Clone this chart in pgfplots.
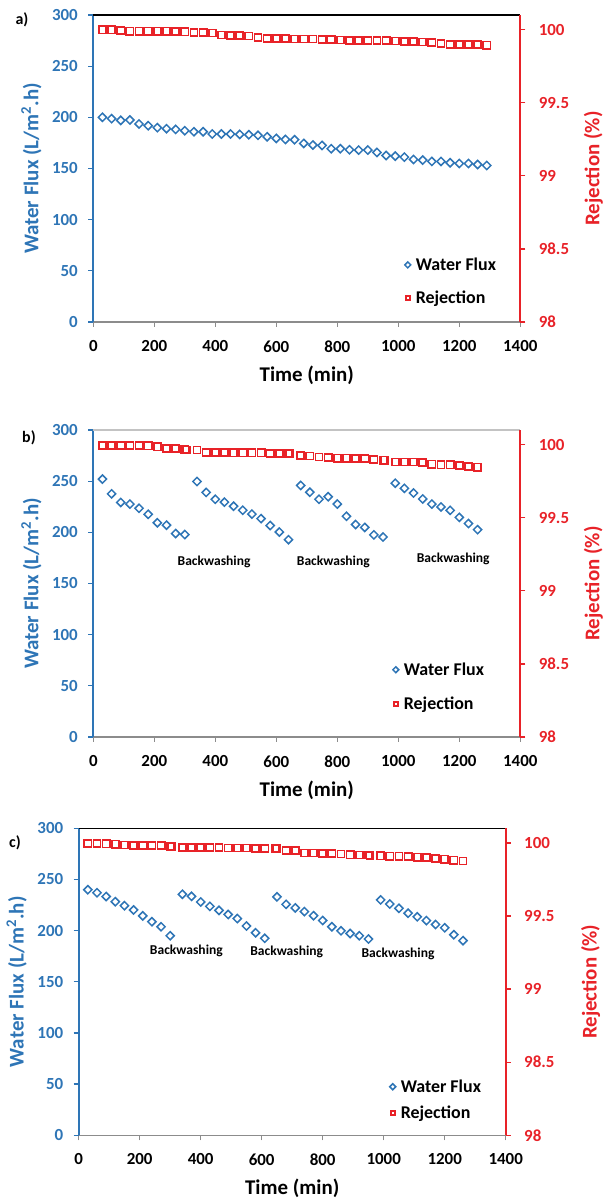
\documentclass[border=0pt]{standalone}
\usepackage{fontspec}
\setmainfont{Carlito}
\usepackage{pgfplots}
\pgfplotsset{compat=1.18}
\definecolor{fluxblue}{RGB}{46,117,182}
\definecolor{rejred}{RGB}{232,34,40}
\definecolor{axgray}{RGB}{140,140,140}
\definecolor{lgray}{RGB}{195,195,195}
\tikzset{bw/.style={font=\fontsize{13.6}{16}\selectfont\bfseries, black}}
\pgfplotsset{
  basefig/.style={
    scale only axis, width=427bp, height=307bp,
    xmin=0, xmax=1400,
    /pgf/number format/assume math mode=true,
    /pgf/number format/1000 sep={},
    tick label style={font=\fontsize{17}{20}\selectfont\bfseries},
    major tick length=5bp,
    tick align=outside,
    label style={font=\fontsize{21}{24}\selectfont\bfseries},
    clip=false,
  },
  fluxax/.style={basefig,
    ymin=0, ymax=300, ytick={0,50,...,300},
    xtick={0,200,...,1400},
    axis x line*=bottom, axis y line*=left,
    x axis line style={axgray, line width=1.5bp},
    y axis line style={fluxblue, line width=2bp},
    xtick style={axgray, line width=1bp},
    ytick style={fluxblue, line width=1.3bp},
    yticklabel style={fluxblue, xshift=-7bp},
    xticklabel style={black, yshift=-10bp},
    ylabel={Water Flux (L/m\textsuperscript{2}.h)},
    xlabel={Time (min)},
    ylabel style={fluxblue, at={([xshift=-62bp]rel axis cs:0,0.5)}, anchor=center},
    xlabel style={black, at={([yshift=-53bp]rel axis cs:0.5,0)}, anchor=center},
  },
  rejax/.style={basefig,
    ymin=98, ymax=100.1, ytick={98,98.5,99,99.5,100},
    axis x line=none, axis y line*=right,
    y axis line style={rejred, line width=2bp},
    ytick style={rejred, line width=1.3bp},
    yticklabel style={rejred, xshift=10bp},
    ylabel={Rejection (\%)},
    legend style={draw=none, fill=none, inner sep=0pt,
      font=\fontsize{18}{21}\selectfont\bfseries, anchor=west},
    legend cell align=left,
    legend image code/.code={\path[draw=none, fill=none] (-3bp,0bp) (6bp,0bp); \draw[##1, mark size=2.1bp] plot coordinates {(0bp,0bp)};},
  },
  rlabab/.style={ylabel style={rejred, at={([xshift=73bp]rel axis cs:1,0.5)}, anchor=center}},
  rlabc/.style={ylabel style={rejred, at={([xshift=85bp]rel axis cs:1,0.5)}, anchor=center}},
  fluxmark/.style={only marks, fluxblue, mark=square, mark size=2.9bp,
    mark options={rotate=45, line width=1.5bp}},
  rejmark/.style={only marks, rejred, mark=square, mark size=3.6bp,
    mark options={line width=1.7bp}},
}
\begin{document}
\begin{tikzpicture}
\useasboundingbox (0,0) rectangle (608bp,1198bp);

% ---------------- panel a ----------------
\node[font=\fontsize{16}{18}\selectfont\bfseries] at (22bp,1178bp) {a)};
\begin{axis}[fluxax, at={(93.3bp,1183bp)}, anchor=north west]
\addplot[fluxmark] coordinates {
(30,200) (60,198.7) (90,197) (120,197.4) (150,193.5) (180,191.8) (210,189.9) (240,188.9) (270,188.2) (300,186.9)
(330,185.9) (360,185.9) (390,183.7) (420,183.7) (450,183.7) (480,183.3) (510,183) (540,182.4) (570,181) (600,179.4)
(630,178.4) (660,178.1) (690,174.5) (720,172.9) (750,172.5) (780,169.3) (810,169.3) (840,168.3) (870,168) (900,168)
(930,165.7) (960,162.7) (990,162.1) (1020,161.1) (1050,158.8) (1080,158.2) (1110,156.9) (1140,156.9) (1170,155.6) (1200,154.9)
(1230,154.9) (1260,153.9) (1290,152.9)};
\draw[black, line width=1.3bp] (rel axis cs:0,1) -- (rel axis cs:1,1);
\end{axis}
\begin{axis}[rejax, rlabab, at={(93.3bp,1183bp)}, anchor=north west,
  legend style={at={(0.729,0.132)}, row sep=15bp}]
\addlegendimage{fluxmark}
\addlegendentry{Water Flux}
\addplot[rejmark] coordinates {
(30,99.998) (60,99.998) (90,99.993) (120,99.989) (150,99.989) (180,99.989) (210,99.989) (240,99.989) (270,99.986) (300,99.984)
(330,99.979) (360,99.979) (390,99.977) (420,99.963) (450,99.961) (480,99.959) (510,99.956) (540,99.947) (570,99.938) (600,99.938)
(630,99.938) (660,99.936) (690,99.936) (720,99.936) (750,99.933) (780,99.931) (810,99.929) (840,99.927) (870,99.927) (900,99.924)
(930,99.924) (960,99.924) (990,99.922) (1020,99.920) (1050,99.917) (1080,99.915) (1110,99.913) (1140,99.906) (1170,99.899) (1200,99.897)
(1230,99.897) (1260,99.897) (1290,99.894)};
\addlegendentry{Rejection}
\end{axis}

% ---------------- panel b ----------------
\node[font=\fontsize{16}{18}\selectfont\bfseries] at (29bp,760bp) {b)};
\begin{axis}[fluxax, at={(93.3bp,768bp)}, anchor=north west]
\addplot[fluxmark] coordinates {
(30,252) (60,237.6) (90,229.2) (120,227.6) (150,223.5) (180,217.6) (210,209.3) (240,207) (270,198.8) (300,197.8)
(340,249.7) (370,239) (400,232.3) (430,229.5) (460,225.5) (490,221.6) (520,217.8) (550,213.4) (580,206.6) (610,200.3) (640,192.8)
(680,245.8) (710,239.2) (740,232.3) (770,234.8) (800,227.6) (830,215.7) (860,207.6) (890,204.8) (920,197.5) (950,195.4)
(990,248) (1020,243) (1050,238.4) (1080,232.6) (1110,227.6) (1140,224.8) (1170,221.5) (1200,214.6) (1230,208.6) (1260,202.6)};
\draw[lgray, line width=1.3bp] (rel axis cs:0,1) -- (rel axis cs:1,1);
\node[bw] at (axis cs:396,171) {Backwashing};
\node[bw] at (axis cs:787,171) {Backwashing};
\node[bw] at (axis cs:1180,174.3) {Backwashing};
\end{axis}
\begin{axis}[rejax, rlabab, at={(93.3bp,768bp)}, anchor=north west,
  legend style={at={(0.701,0.1635)}, row sep=16bp}]
\addlegendimage{fluxmark}
\addlegendentry{Water Flux}
\addplot[rejmark] coordinates {
(30,99.995) (60,99.995) (90,99.995) (120,99.993) (150,99.993) (180,99.991) (210,99.984) (240,99.975) (270,99.975) (300,99.968) (305,99.963)
(340,99.963) (370,99.945) (400,99.945) (430,99.945) (460,99.943) (490,99.943) (520,99.943) (550,99.943) (580,99.940) (610,99.940) (640,99.940) (645,99.940)
(680,99.927) (710,99.922) (740,99.915) (770,99.911) (800,99.908) (830,99.908) (860,99.906) (890,99.904) (920,99.899) (950,99.894) (955,99.894)
(990,99.881) (1020,99.881) (1050,99.881) (1080,99.876) (1110,99.867) (1140,99.862) (1170,99.862) (1200,99.858) (1230,99.851) (1260,99.846)};
\addlegendentry{Rejection}
\end{axis}

% ---------------- panel c ----------------
\node[font=\fontsize{16}{18}\selectfont\bfseries] at (15bp,355bp) {c)};
\begin{axis}[fluxax, at={(78.7bp,369.7bp)}, anchor=north west]
\addplot[fluxmark] coordinates {
(30,240) (60,237) (90,233.3) (120,228.3) (150,224.4) (180,220.2) (210,214.4) (240,208.7) (270,203.8) (300,195)
(340,235.5) (370,233.5) (400,228) (430,223.7) (460,219.8) (490,215.8) (520,211.8) (550,204.5) (580,197.9) (610,192.5)
(650,233) (680,225.7) (710,222.2) (740,218.6) (770,214.6) (800,209.9) (830,203.8) (860,199.8) (890,197.2) (920,195) (950,191.8)
(990,230) (1020,226) (1050,221.8) (1080,217) (1110,213.5) (1140,209.8) (1170,206) (1200,202.8) (1230,196) (1260,190.2)};
\draw[black, line width=1.3bp] (rel axis cs:0,1) -- (rel axis cs:1,1);
\node[bw] at (axis cs:353,180) {Backwashing};
\node[bw] at (axis cs:682,178.8) {Backwashing};
\node[bw] at (axis cs:1047,176.9) {Backwashing};
\end{axis}
\begin{axis}[rejax, rlabc, at={(78.7bp,369.7bp)}, anchor=north west,
  legend style={at={(0.728,0.1156)}, row sep=8bp}]
\addlegendimage{fluxmark}
\addlegendentry{Water Flux}
\addplot[rejmark] coordinates {
(30,99.995) (60,99.995) (90,99.993) (120,99.991) (150,99.986) (180,99.984) (210,99.984) (240,99.984) (270,99.982) (300,99.977) (305,99.977)
(340,99.970) (370,99.970) (400,99.968) (430,99.968) (460,99.968) (490,99.965) (520,99.965) (550,99.965) (580,99.963) (610,99.963) (645,99.961) (650,99.959)
(680,99.949) (710,99.949) (740,99.931) (770,99.931) (800,99.929) (830,99.926) (860,99.924) (890,99.919) (920,99.917) (950,99.917) (955,99.915)
(990,99.912) (1020,99.910) (1050,99.910) (1080,99.908) (1110,99.903) (1140,99.899) (1170,99.894) (1200,99.889) (1230,99.882) (1260,99.876)};
\addlegendentry{Rejection}
\end{axis}
\end{tikzpicture}
\end{document}
